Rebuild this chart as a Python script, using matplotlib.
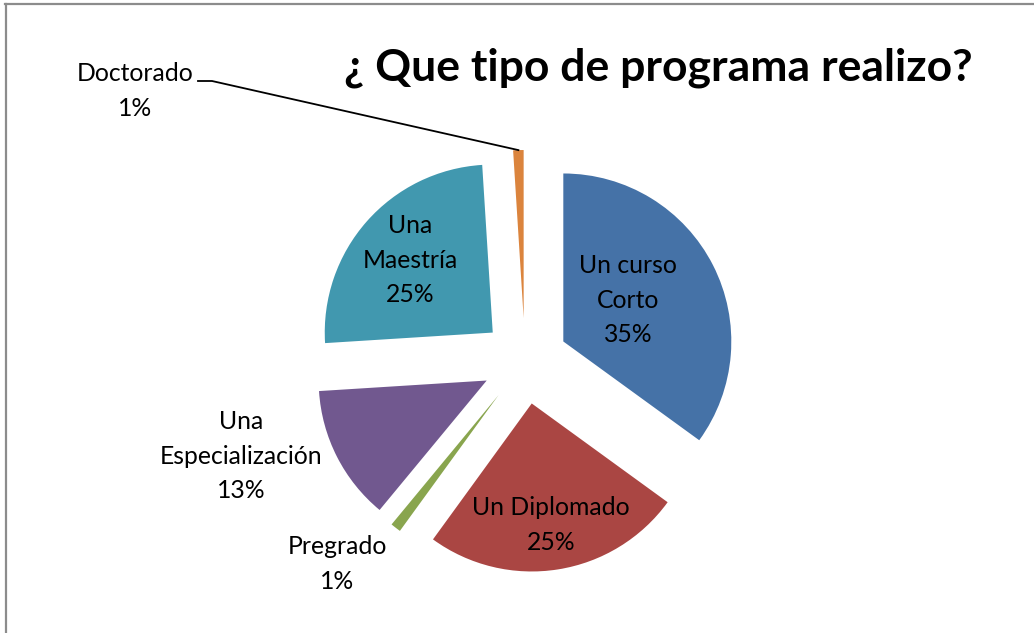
import numpy as np
import matplotlib
matplotlib.use("Agg")
import matplotlib.pyplot as plt
from matplotlib.lines import Line2D

plt.rcParams['font.family'] = ['Lato', 'DejaVu Sans']

# datos de la encuesta
categorias = ["Un curso\nCorto", "Un Diplomado", "Pregrado",
              "Una\nEspecialización", "Una\nMaestría", "Doctorado"]
porcentajes = [35, 25, 1, 13, 25, 1]
colores = ["#4572A7", "#AA4643", "#89A54E", "#71588F", "#4198AF", "#DB843D"]

W, H = 1034, 633
fig = plt.figure(figsize=(W / 100, H / 100), dpi=100)
ax = fig.add_axes([0, 0, 1, 1])

centro = (525, H - 361)
radio = 168
# explode va en unidades de datos (pixeles aqui)
cuñas, _ = ax.pie(porcentajes, colors=colores, startangle=90, counterclock=False,
                  explode=[43] * len(porcentajes), center=centro, radius=radio,
                  wedgeprops=dict(linewidth=0))

# pie() cambia los limites, se ponen despues
ax.set_xlim(0, W)
ax.set_ylim(0, H)
ax.set_aspect('equal')
ax.axis('off')

# posicion de las etiquetas (centro del bloque de texto, en pixeles desde arriba)
pos_etiquetas = [(628, 300), (551, 525), (337, 564), (241, 456), (410, 260), (135, 91)]
for nombre, p, (x, y) in zip(categorias, porcentajes, pos_etiquetas):
    ax.text(x, H - y, f"{nombre}\n{p}%", ha='center', va='center',
            fontsize=17.8, linespacing=1.6, color='black')

# linea guia de Doctorado
w = cuñas[-1]
ang = np.deg2rad((w.theta1 + w.theta2) / 2)
px = w.center[0] + w.r * np.cos(ang)
py = w.center[1] + w.r * np.sin(ang)
ax.plot([198, 212, px], [H - 81, H - 81, py], color='black', lw=1.3)

ax.text(658, H - 68, "¿ Que tipo de programa realizo?", ha='center', va='center',
        fontsize=32, fontweight='bold')

# marco del grafico
fig.add_artist(Line2D([5 / W, 1], [1 - 4 / H, 1 - 4 / H], color='#8c8c8c', lw=1.6))
fig.add_artist(Line2D([5.5 / W, 5.5 / W], [0, 1 - 4 / H], color='#8c8c8c', lw=1.6))

fig.savefig("out.png", dpi=100)
